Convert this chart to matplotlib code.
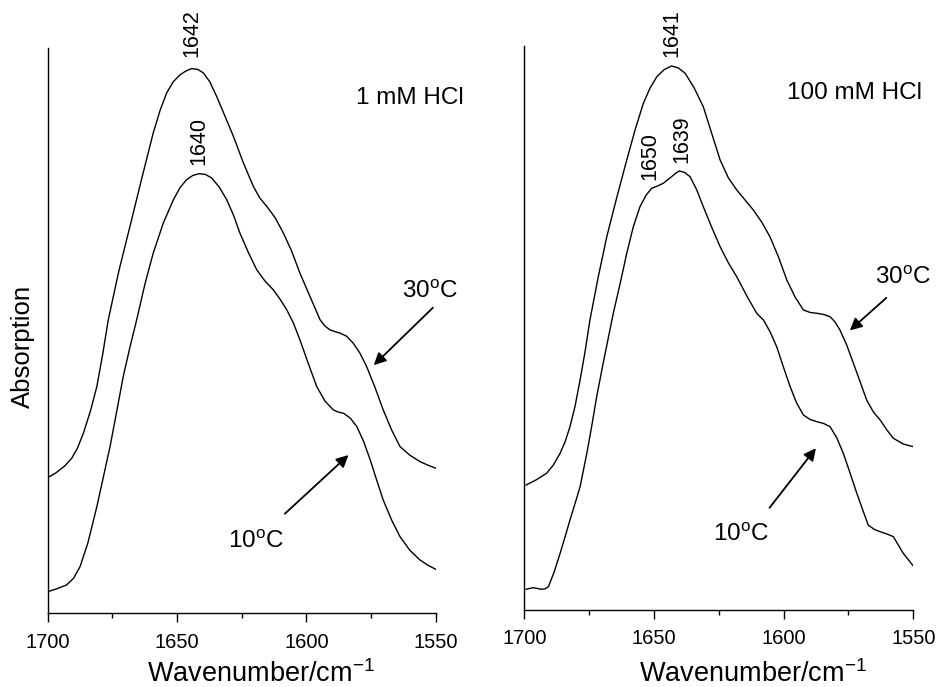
import numpy as np
import matplotlib
matplotlib.use('Agg')
import matplotlib.pyplot as plt

plt.rcParams['font.family'] = ['Liberation Sans', 'DejaVu Sans']
plt.rcParams['mathtext.fontset'] = 'custom'
plt.rcParams['mathtext.rm'] = 'Liberation Sans'
plt.rcParams['mathtext.it'] = 'Liberation Sans:italic'

# 1 mM HCl (absorption in arbitrary units)
wn_1mm_30 = [1700, 1697, 1693.5, 1690.7, 1688.5, 1686.2, 1683.5, 1681, 1678.8, 1676.6, 1672.5, 1668.2,
             1663.5, 1659.2, 1656.5, 1654, 1651.5, 1648.9, 1646.5, 1644.3, 1642, 1639.8, 1637.3,
             1634.7, 1631.5, 1628.2, 1624.5, 1620.5, 1618, 1615.3, 1612, 1608.9, 1605.7, 1602.5,
             1598.5, 1594.7, 1592.8, 1590.9, 1589, 1587, 1584.5, 1581.9, 1579.3, 1576.7, 1573.5,
             1570.3, 1567, 1563.8, 1560, 1556.1, 1553, 1550]
ab_1mm_30 = [135.6, 140, 147, 155, 165, 180, 202, 226.6, 258, 293, 342, 386.6,
             436, 480, 503, 520, 531, 538, 542, 544.3, 543.5, 540, 531,
             516.6, 497, 476.6, 451, 426.6, 415, 406.6, 395, 380, 362, 340,
             316, 293.3, 287, 283.3, 281.5, 280, 277, 270, 260, 246.6, 226,
             203.3, 183, 166.6, 158, 151.6, 148, 145]
wn_1mm_10 = [1700, 1696.5, 1692.7, 1690, 1687.5, 1684.5, 1681, 1678.5, 1675.9, 1673.3, 1670.8, 1668.2,
             1665.6, 1662.5, 1659.2, 1655.3, 1651.4, 1648.8, 1646.3, 1643.9, 1641.5, 1639, 1636.6,
             1633.7, 1630.8, 1628.2, 1625.7, 1622.5, 1619.2, 1616, 1612.8, 1610.2, 1607.6, 1605,
             1602.5, 1599.3, 1596, 1592.8, 1589.6, 1587.6, 1585.7, 1583, 1580.5, 1577.9, 1575.3,
             1572.8, 1570.3, 1567, 1563.8, 1560, 1556.1, 1553, 1550]
ab_1mm_10 = [21.6, 24.5, 28.3, 35, 46.6, 70, 106.6, 136, 166.6, 202, 236.6, 266,
             293.3, 328, 360, 390, 413.3, 425.5, 433.3, 437.5, 439.3, 438.5, 435,
             426, 413.3, 398, 380, 361, 343.3, 332, 323.3, 314, 303.3, 290,
             273.3, 250, 226.6, 212, 203.3, 201, 200, 195, 186.6, 172, 153.3,
             133, 113.3, 93, 76.6, 63, 53.3, 48, 44]

# 100 mM HCl
wn_100mm_30 = [1699.3, 1695.5, 1691.4, 1688.8, 1686.2, 1684.3, 1682.4, 1680.5, 1678.5, 1676.6, 1674.7,
               1671.5, 1668.2, 1664.4, 1660.5, 1657.3, 1654.1, 1651.5, 1648.9, 1646, 1643.2, 1640.6,
               1638, 1634.5, 1631, 1627.8, 1624.5, 1621.3, 1618.1, 1614.9, 1611.7, 1608.5, 1605.3,
               1602, 1598.8, 1595.6, 1592.4, 1589.8, 1587.2, 1584.6, 1582.1, 1580.2, 1578.3, 1575.7,
               1573.1, 1570.5, 1568, 1565.4, 1562.8, 1560.2, 1557.7, 1553.9, 1550]
ab_100mm_30 = [125, 130, 136.7, 145, 156.7, 168, 183.3, 203, 230, 258, 290,
               333, 373.3, 412, 450, 480, 506.7, 522, 533.3, 540.5, 544, 542,
               536.7, 522, 503.3, 477, 450, 432, 420, 410, 400, 388, 373.3,
               353, 330, 313, 300, 297.5, 296.7, 295.5, 293.3, 288, 280, 265,
               246.7, 228, 210, 198, 190, 180, 171.7, 166, 163.3]
wn_100mm_10 = [1699.3, 1698, 1696.5, 1695, 1693.3, 1692, 1690.7, 1688.5, 1686.2, 1684.3, 1682.4, 1680.5,
               1678.5, 1675.9, 1674, 1672.1, 1669.5, 1667, 1665.7, 1663, 1660.5, 1658, 1655.4,
               1653, 1650.9, 1648.6, 1646.4, 1643.2, 1641.5, 1640.2, 1638.2, 1636.1, 1633.5, 1631,
               1627.8, 1624.5, 1621.3, 1618.1, 1614.2, 1610.4, 1607.8, 1605.2, 1602.7, 1600.1,
               1597.5, 1595, 1592.4, 1589.8, 1587.2, 1584.6, 1582.1, 1579.5, 1577, 1574.4, 1571.8,
               1569.5, 1567.4, 1565, 1562.8, 1560.2, 1557.7, 1555.8, 1553.9, 1550]
ab_100mm_10 = [20.7, 21.5, 22.3, 21.5, 20.7, 21.2, 23.3, 38, 56.7, 73, 90, 106,
               123.3, 156.7, 184, 213.3, 248, 280, 296.7, 327, 356.7, 383, 403.3,
               415, 421.7, 424, 426.7, 433.3, 437, 439, 437.5, 433.3, 420, 403.3,
               383, 363.3, 347, 333.3, 314, 296.7, 290, 278, 263.3, 243,
               223.3, 207, 195, 190.5, 188.3, 186.5, 183.3, 172, 156.7, 137, 116.7,
               100, 85, 80.5, 78.3, 76, 73.3, 65, 56.7, 44]

peaks_1mm = [(1644.3, 556, '1642'), (1641.5, 448, '1640')]
peaks_100mm = [(1643.2, 553, '1641'), (1651.5, 430, '1650'), (1639.3, 446.7, '1639')]

fig = plt.figure(figsize=(9.41, 6.87), dpi=100)
ax1 = fig.add_axes([0.0507, 0.1073, 0.4123, 0.823])
ax2 = fig.add_axes([0.5572, 0.1121, 0.4134, 0.821])


def style(ax, top):
    ax.set_xlim(1700, 1550)
    ax.set_ylim(0, top)
    for s in ['top', 'right']:
        ax.spines[s].set_visible(False)
    for s in ['left', 'bottom']:
        ax.spines[s].set_linewidth(1.0)
    ax.set_yticks([])
    ax.set_xticks([1700, 1650, 1600, 1550])
    ax.set_xticks([1675, 1625, 1575], minor=True)
    ax.tick_params(axis='x', which='major', direction='out', length=6.5, width=1.0,
                   labelsize=14.5, pad=7.5)
    ax.tick_params(axis='x', which='minor', direction='out', length=3.5, width=1.0)


def temp_labels(ax, t30, a30, t10, a10):
    ax.text(t30[0], t30[1], '30$^\\mathrm{o}$C', fontsize=17.5, ha='center', va='center')
    ax.annotate('', xy=a30[1], xytext=a30[0],
                arrowprops=dict(arrowstyle='-|>', color='k', lw=1.3, mutation_scale=18))
    ax.text(t10[0], t10[1], '10$^\\mathrm{o}$C', fontsize=17.5, ha='center', va='center')
    ax.annotate('', xy=a10[1], xytext=a10[0],
                arrowprops=dict(arrowstyle='-|>', color='k', lw=1.3, mutation_scale=18))


style(ax1, 565)
ax1.plot(wn_1mm_30, ab_1mm_30, color='k', lw=1.0)
ax1.plot(wn_1mm_10, ab_1mm_10, color='k', lw=1.0)
for x, y, s in peaks_1mm:
    ax1.text(x, y, s, rotation=90, fontsize=15.5, ha='center', va='bottom', clip_on=False)
ax1.text(1559.9, 515.3, '1 mM HCl', fontsize=17.5, ha='center', va='center')
temp_labels(ax1, (1552.2, 321.3), ((1550.3, 307.3), (1574.7, 246)),
            (1619.5, 71.3), ((1609.1, 97.6), (1582.9, 160)))

style(ax2, 564)
ax2.plot(wn_100mm_30, ab_100mm_30, color='k', lw=1.0)
ax2.plot(wn_100mm_10, ab_100mm_10, color='k', lw=1.0)
for x, y, s in peaks_100mm:
    ax2.text(x, y, s, rotation=90, fontsize=15.5, ha='center', va='bottom', clip_on=False)
ax2.text(1572.5, 516.7, '100 mM HCl', fontsize=17.5, ha='center', va='center')
temp_labels(ax2, (1554.2, 331.7), ((1559.6, 314), (1575.3, 277.7)),
            (1616.4, 75), ((1606.1, 100), (1586.9, 164)))

fig.text(261 / 941, 1 - 682.5 / 687, 'Wavenumber/cm$^{-1}$', fontsize=19.5, ha='center', va='baseline')
fig.text(753 / 941, 1 - 682.5 / 687, 'Wavenumber/cm$^{-1}$', fontsize=19.5, ha='center', va='baseline')
fig.text(23 / 941, 1 - 346 / 687, 'Absorption', fontsize=18.5, rotation=90, ha='center', va='center')

fig.savefig('out.png', dpi=100)
